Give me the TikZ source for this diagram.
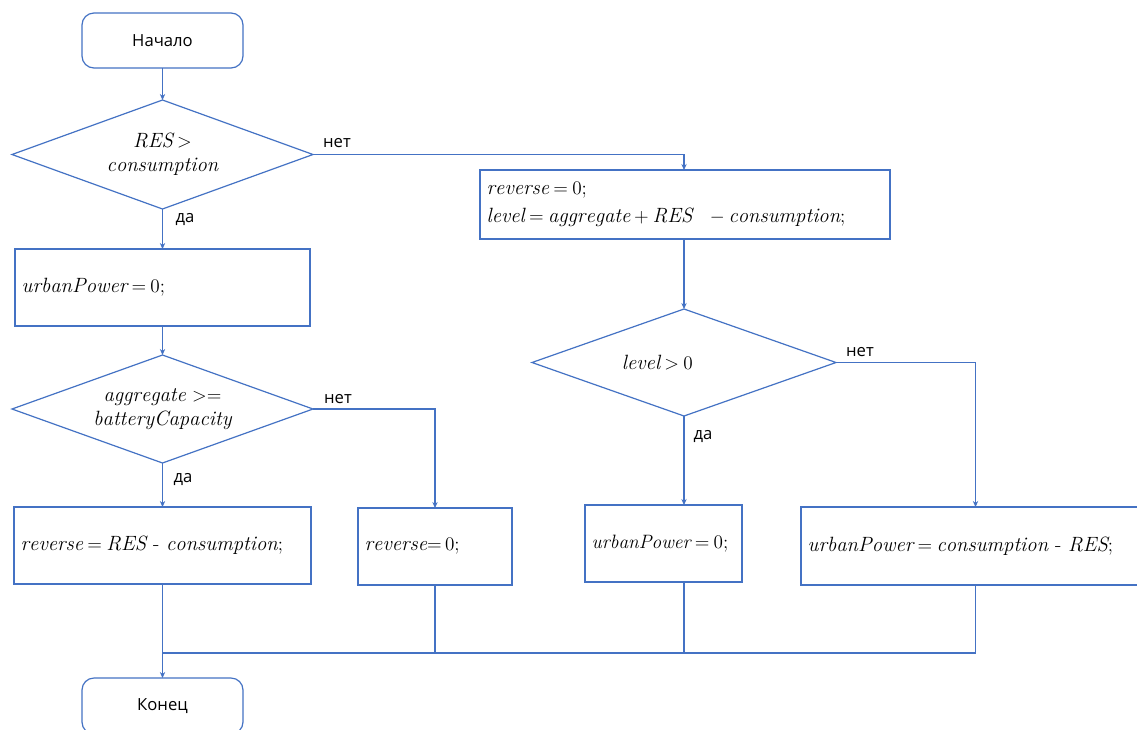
\documentclass[tikz,border=0pt]{standalone}
\usepackage{fontspec}
\newfontfamily\sansf{Open Sans}
\usetikzlibrary{shapes.geometric,arrows.meta}
\definecolor{fc}{HTML}{4472C4}
\relpenalty=10000
\binoppenalty=10000
\thickmuskip=4mu
\medmuskip=3.5mu
\begin{document}
\begin{tikzpicture}[x=0.75pt,y=-0.75pt,
  every node/.append style={inner sep=0pt, outer sep=0pt},
  flow/.style={draw=fc, line width=0.9pt},
  term/.style={flow, rounded corners=9pt, font=\sansf\fontsize{12.5}{15}\selectfont, minimum width=120.75pt},
  dec/.style={flow, diamond, shape aspect=2.8, align=center, font=\fontsize{15.5}{18}\selectfont},
  proc/.style={flow, rectangle, align=left, font=\fontsize{15.5}{21}\selectfont, inner xsep=5pt},
  lbl/.style={font=\sansf\fontsize{12.5}{15}\selectfont, text=black},
  conn/.style={draw=fc, line width=0.8pt},
  arr/.style={conn, -{Stealth[length=4.5pt,width=4pt]}}
]
\useasboundingbox (0,0) rectangle (1137,729);
\clip (0,0) rectangle (1137,729);
\fill[white] (0,0) rectangle (1137,729);

\node[term, minimum height=41.25pt] (start) at (162.5,40.5) {Начало};
\node[dec, minimum width=225.75pt, minimum height=81.75pt] (d1) at (162.5,154.5) {$\mathit{RES}>$\\$\mathit{consumption}$};
\node[proc, minimum height=57.75pt, text width=211.25pt] (b1) at (162.5,287.5) {$\mathit{urbanPower} = 0;$};
\node[dec, minimum width=225.75pt, minimum height=81pt] (d2) at (162.5,409) {$\mathit{aggregate}\ {>}{=}$\hspace{12pt}\\$\mathit{batteryCapacity}$};
\node[proc, minimum height=57.75pt, text width=212.75pt] (b2) at (162.5,545.5) {$\mathit{reverse} = \mathit{RES}$ - $\mathit{consumption};$};
\node[proc, text width=105.5pt, minimum height=57.75pt] (b3) at (435,546.5) {$\mathit{reverse}{=}\,0;$};
\node[proc, text width=297.5pt, minimum height=51.75pt] (bR) at (685,204.5) {$\mathit{reverse} = 0;$\\$\mathit{level} = \mathit{aggregate} + \mathit{RES}\ \ - \mathit{consumption};$};
\node[dec, minimum width=228pt, minimum height=80.25pt] (d3) at (684,362.5) {$\mathit{level} > 0$\hspace{40pt}};
\node[proc, text width=107.75pt, minimum height=57.75pt, font=\fontsize{14.5}{21}\selectfont] (b4) at (663.5,543.5) {\mbox{$\mathit{urbanPower} = 0;$}};
\node[proc, text width=251.75pt, minimum height=58.5pt] (b5) at (975.5,546) {$\mathit{urbanPower} = \mathit{consumption}$ - $\mathit{RES};$};
\node[term, minimum height=42pt] (end) at (162.5,706) {Конец};

\draw[arr] (start.south) -- (d1.north);
\draw[arr] (d1.east) -| (d3.north |- bR.north);
\draw[arr] (d1.south) -- (b1.north);
\draw[arr] (b1.south) -- (d2.north);
\draw[arr] (d2.south) -- (b2.north);
\draw[arr] (d2.east) -| (b3.north);
\draw[arr] (d3.north |- bR.south) -- (d3.north);
\draw[arr] (d3.south) -- (d3.south |- b4.north);
\draw[arr] (d3.east) -| (b5.north);
\coordinate (j) at (162.5,653);
\draw[arr] (b2.south) -- (end.north);
\draw[conn] (b3.south) |- (j);
\draw[conn] (d3.south |- b4.south) |- (j);
\draw[conn] (b5.south) |- (j);

\node[lbl] (l1) at (337,143) {нет};
\node[lbl] (l2) at (185,220) {да};
\node[lbl] (l3) at (338,399) {нет};
\node[lbl] (l4) at (183,479) {да};
\node[lbl] (l5) at (860,352) {нет};
\node[lbl] (l6) at (703,436) {да};
\end{tikzpicture}
\end{document}
